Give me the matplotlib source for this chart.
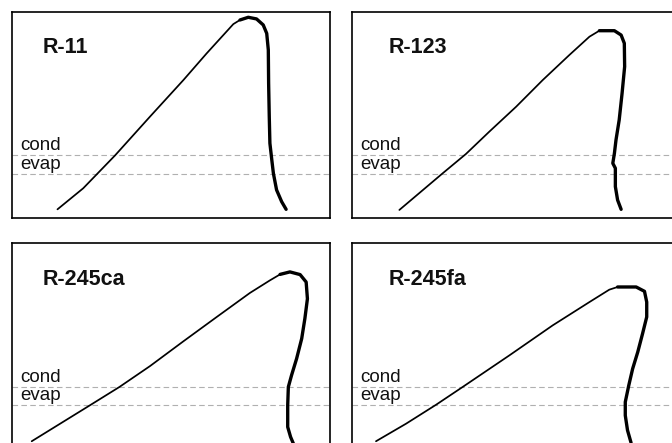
import matplotlib
matplotlib.use("Agg")
import matplotlib.pyplot as plt

plt.rcParams["font.family"] = ["Liberation Sans", "DejaVu Sans"]

# Saturation domes (reduced entropy vs. reduced temperature, 0-100 scale)
refrigerants = ["R-11", "R-123", "R-245ca", "R-245fa"]

r11_liq_s = [14.3, 22.4, 32.4, 43.4, 53.9, 61.2, 69.6, 71.7]
r11_liq_t = [4.2, 14.4, 30.3, 49.1, 66.8, 79.7, 93.9, 95.9]
r11_vap_s = [71.7, 74.3, 76.9, 79.0, 80.1, 80.6, 80.7, 80.9, 81.1, 81.7, 82.2, 83.2, 84.8, 86.2]
r11_vap_t = [95.9, 97.2, 96.4, 93.5, 89.4, 81.4, 65.2, 49.1, 36.2, 28.1, 21.6, 13.6, 7.9, 4.2]

r123_liq_s = [14.8, 28.3, 35.6, 42.9, 51.3, 59.6, 67.9, 74.2, 77.3]
r123_liq_t = [3.9, 21.6, 31.0, 41.8, 53.9, 66.8, 78.9, 87.8, 90.7]
r123_vap_s = [77.3, 82.0, 84.1, 85.1, 85.2, 84.4, 83.5, 82.5, 82.0, 81.5, 82.3, 82.3, 83.0, 84.1]
r123_vap_t = [90.7, 90.7, 88.6, 84.6, 73.3, 60.4, 47.5, 37.8, 31.3, 26.5, 24.1, 15.2, 8.7, 4.2]

r245ca_liq_s = [6.2, 24.5, 33.8, 43.4, 53.9, 64.4, 74.8, 81.1, 84.3]
r245ca_liq_t = [4.0, 21.4, 30.3, 40.4, 52.4, 64.2, 75.8, 81.9, 84.8]
r245ca_vap_s = [84.3, 87.4, 90.6, 92.5, 92.9, 92.1, 91.1, 89.5, 87.9, 86.9, 86.7, 86.7, 87.6, 88.5]
r245ca_vap_t = [84.8, 86.0, 84.7, 81.1, 73.0, 63.4, 53.7, 44.0, 35.9, 30.3, 21.4, 10.9, 6.1, 2.8]

r245fa_liq_s = [7.5, 16.9, 26.3, 34.6, 49.2, 62.7, 74.2, 80.4, 83.0]
r245fa_liq_t = [4.0, 12.5, 21.7, 30.3, 45.6, 60.1, 71.4, 77.4, 78.7]
r245fa_vap_s = [83.0, 88.8, 91.4, 92.1, 92.1, 90.8, 89.3, 87.7, 86.5, 85.4, 85.4, 86.1, 87.2]
r245fa_vap_t = [78.7, 78.7, 76.6, 71.4, 64.2, 56.1, 47.2, 39.1, 31.1, 23.0, 16.5, 9.3, 3.3]

t_cond = 30.3
t_evap = 21.5

curves = [
    (r11_liq_s, r11_liq_t, r11_vap_s, r11_vap_t),
    (r123_liq_s, r123_liq_t, r123_vap_s, r123_vap_t),
    (r245ca_liq_s, r245ca_liq_t, r245ca_vap_s, r245ca_vap_t),
    (r245fa_liq_s, r245fa_liq_t, r245fa_vap_s, r245fa_vap_t),
]

W, H = 672, 443
fig = plt.figure(figsize=(W / 100, H / 100), dpi=100)

# panel boxes in pixels: left, top, width, height
boxes = [
    (12, 11.5, 318, 206.5),
    (352, 11.5, 322, 206.5),
    (12, 243, 318, 206.5),
    (352, 243, 322, 206.5),
]

for name, (ls, lt, vs, vt), (x0, y0, w, h) in zip(refrigerants, curves, boxes):
    ax = fig.add_axes([x0 / W, 1 - (y0 + h) / H, w / W, h / H])
    ax.set_xlim(0, 100 * w / (318 if w < 320 else 320))
    ax.set_ylim(0, 100)
    ax.set_xticks([])
    ax.set_yticks([])
    for sp in ax.spines.values():
        sp.set_linewidth(1.2)
        sp.set_color("black")

    for tl in (t_cond, t_evap):
        ax.axhline(tl, color="#b0b0b0", lw=0.8, dashes=(5, 3), zorder=1)

    ax.plot(ls, lt, color="black", lw=1.25, solid_capstyle="round", zorder=3)
    ax.plot(vs, vt, color="black", lw=2.4, solid_capstyle="round",
            solid_joinstyle="round", zorder=3)

    ax.text(0.027, t_cond + 0.5, "cond", fontsize=13.5, color="#111111",
            transform=ax.get_yaxis_transform(), ha="left", va="bottom")
    ax.text(0.027, t_evap + 0.5, "evap", fontsize=13.5, color="#111111",
            transform=ax.get_yaxis_transform(), ha="left", va="bottom")

    ax.text(0.095 if name in ("R-11", "R-245ca") else 0.115, 0.798, name,
            fontsize=15.5, fontweight="bold", color="#111111",
            transform=ax.transAxes, ha="left", va="baseline")

fig.savefig("out.png", dpi=100)
